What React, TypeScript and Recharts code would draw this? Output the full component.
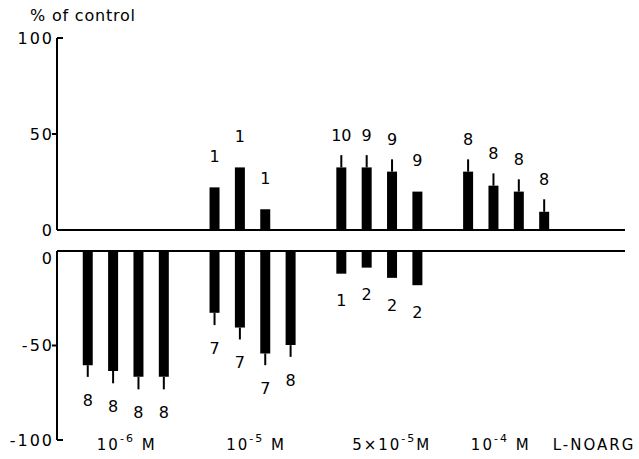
import React from 'react';
import { BarChart, Bar, XAxis, YAxis, ErrorBar, LabelList, ReferenceLine } from 'recharts';

const FONT = 'DejaVu Sans';

// concentration groups along the x axis
const groupBase = ['10', '10', '5×10', '10'];
const groupExp = ['-6', '-5', '-5', '-4'];
const groupUnit = [' M', ' M', 'M', ' M'];
const tailLabel = 'L-NOARG';

// upper panel (increase), 4 bars per group
const upValues = [0, 0, 0, 0, 22.2, 32.6, 10.8, 0, 32.6, 32.6, 30.4, 20, 30.4, 23.1, 20, 9.5];
const upErrors = [0, 0, 0, 0, 0, 0, 0, 0, 6.4, 6.4, 6.4, 0, 6.4, 6.4, 6.4, 6.5];
const upN = [null, null, null, null, 1, 1, 1, null, 10, 9, 9, 9, 8, 8, 8, 8];

// lower panel (decrease)
const downValues = [-60.4, -63.5, -66.6, -66.6, -32.7, -40.5, -54.2, -49.8, -12, -8.8, -14.2, -18.1, 0, 0, 0, 0];
const downErrors = [6.2, 6.5, 6.6, 6.6, 6.5, 6.3, 6.2, 6.2, 0, 0, 0, 0, 0, 0, 0, 0];
const downN = [8, 8, 8, 8, 7, 7, 7, 8, 1, 2, 2, 2, null, null, null, null];

const upTicks = [0, 50, 100];
const downTicks = [0, -50, -100];

// bar slot: 4 bars then one empty slot per group
const slot = (i: number) => Math.floor(i / 4) * 5 + (i % 4);

const upData = upValues.map((v, i) => ({ pos: slot(i), value: v, e: upErrors[i], err: [0, upErrors[i]], n: upN[i] }));
const downData = downValues.map((v, i) => ({ pos: slot(i), value: v, e: downErrors[i], err: [downErrors[i], 0], n: downN[i] }));

// where the group captions sit on the slot axis (last one is the L-NOARG caption, left-anchored)
const labelTicks = [1.55, 6.65, 12, 16.3, 18.35];
const X_DOMAIN: [number, number] = [-1.2, 21.2];

const renderN = (up: boolean) => (props: any) => {
  const row = props.value;
  if (!row || row.n == null) return null;
  const vb = props.viewBox ?? props;
  const top = Math.min(vb.y, vb.y + vb.height);
  const bottom = Math.max(vb.y, vb.y + vb.height);
  const cx = vb.x + vb.width / 2;
  const pxPer = row.value !== 0 ? Math.abs(vb.height) / Math.abs(row.value) : 0;
  const e = row.e * pxPer;
  const cy = up ? top - e - (row.e > 0 ? 20 : 31) : bottom + e + (row.e > 0 ? 23 : 27);
  return (
    <text x={cx} y={cy} dy="0.36em" textAnchor="middle" fontFamily={FONT} fontSize={16} fill="#000">
      {row.n}
    </text>
  );
};

const YTick = (props: any) => {
  const { x, y, payload, lower } = props;
  const v = payload.value;
  const ax = x + 5;
  const shift = lower && v === 0 ? 7 : 0;
  return (
    <g>
      {Math.abs(v) === 50 && <line x1={ax - 5} x2={ax} y1={y} y2={y} stroke="#000" strokeWidth={2} />}
      {Math.abs(v) === 100 && <line x1={ax} x2={ax + 6} y1={y} y2={y} stroke="#000" strokeWidth={2} />}
      <text x={ax - 3} y={y + shift} dy="0.36em" textAnchor="end" fontFamily={FONT} fontSize={16} letterSpacing={2} fill="#000">
        {v}
      </text>
    </g>
  );
};

const GroupTick = (props: any) => {
  const { x, y, index } = props;
  const common = { y, dy: 10, fontFamily: FONT, fontSize: 15, letterSpacing: 2, fill: '#000' };
  if (index >= groupBase.length) {
    return (
      <text x={x} textAnchor="start" {...common}>
        {tailLabel}
      </text>
    );
  }
  return (
    <text x={x} textAnchor="middle" {...common}>
      {groupBase[index]}
      <tspan dy={-8} fontSize={11}>{groupExp[index]}</tspan>
      <tspan dy={8}>{groupUnit[index]}</tspan>
    </text>
  );
};

export default function App() {
  return (
    <div style={{ position: 'absolute', left: 0, top: 0, width: 639, height: 459, background: '#fff', fontFamily: FONT, overflow: 'hidden' }}>
      <div style={{ position: 'absolute', left: 30, top: 8, fontSize: 16, lineHeight: '16px', letterSpacing: 0.8, color: '#000' }}>% of control</div>
      <div style={{ position: 'absolute', left: 0, top: 0 }}>
        <BarChart width={639} height={240} data={upData} margin={{ top: 38, right: 14, bottom: 10, left: 0 }}>
          <XAxis dataKey="pos" type="number" domain={X_DOMAIN} hide />
          <YAxis
            width={57}
            domain={[0, 100]}
            ticks={upTicks}
            tickSize={5}
            tickMargin={0}
            tickLine={false}
            axisLine={{ stroke: '#000', strokeWidth: 2 }}
            tick={(p: any) => <YTick {...p} />}
          />
          <ReferenceLine y={0} stroke="#000" strokeWidth={2} />
          <Bar dataKey="value" fill="#000" barSize={10} isAnimationActive={false}>
            <ErrorBar dataKey="err" direction="y" width={0} stroke="#000" strokeWidth={2} />
            <LabelList dataKey={(d: any) => d} content={renderN(true)} />
          </Bar>
        </BarChart>
      </div>
      <div style={{ position: 'absolute', left: 0, top: 240 }}>
        <BarChart width={639} height={219} data={downData} margin={{ top: 11, right: 14, bottom: 0, left: 0 }}>
          <XAxis
            dataKey="pos"
            type="number"
            domain={X_DOMAIN}
            ticks={labelTicks}
            interval={0}
            height={19}
            axisLine={false}
            tickLine={false}
            tickSize={0}
            tickMargin={0}
            tick={(p: any) => <GroupTick {...p} />}
          />
          <YAxis
            width={57}
            domain={[-100, 0]}
            ticks={downTicks}
            tickSize={5}
            tickMargin={0}
            tickLine={false}
            axisLine={{ stroke: '#000', strokeWidth: 2 }}
            tick={(p: any) => <YTick {...p} lower />}
          />
          <ReferenceLine y={0} stroke="#000" strokeWidth={2} />
          <Bar dataKey="value" fill="#000" barSize={10} isAnimationActive={false}>
            <ErrorBar dataKey="err" direction="y" width={0} stroke="#000" strokeWidth={2} />
            <LabelList dataKey={(d: any) => d} content={renderN(false)} />
          </Bar>
        </BarChart>
      </div>
    </div>
  );
}
